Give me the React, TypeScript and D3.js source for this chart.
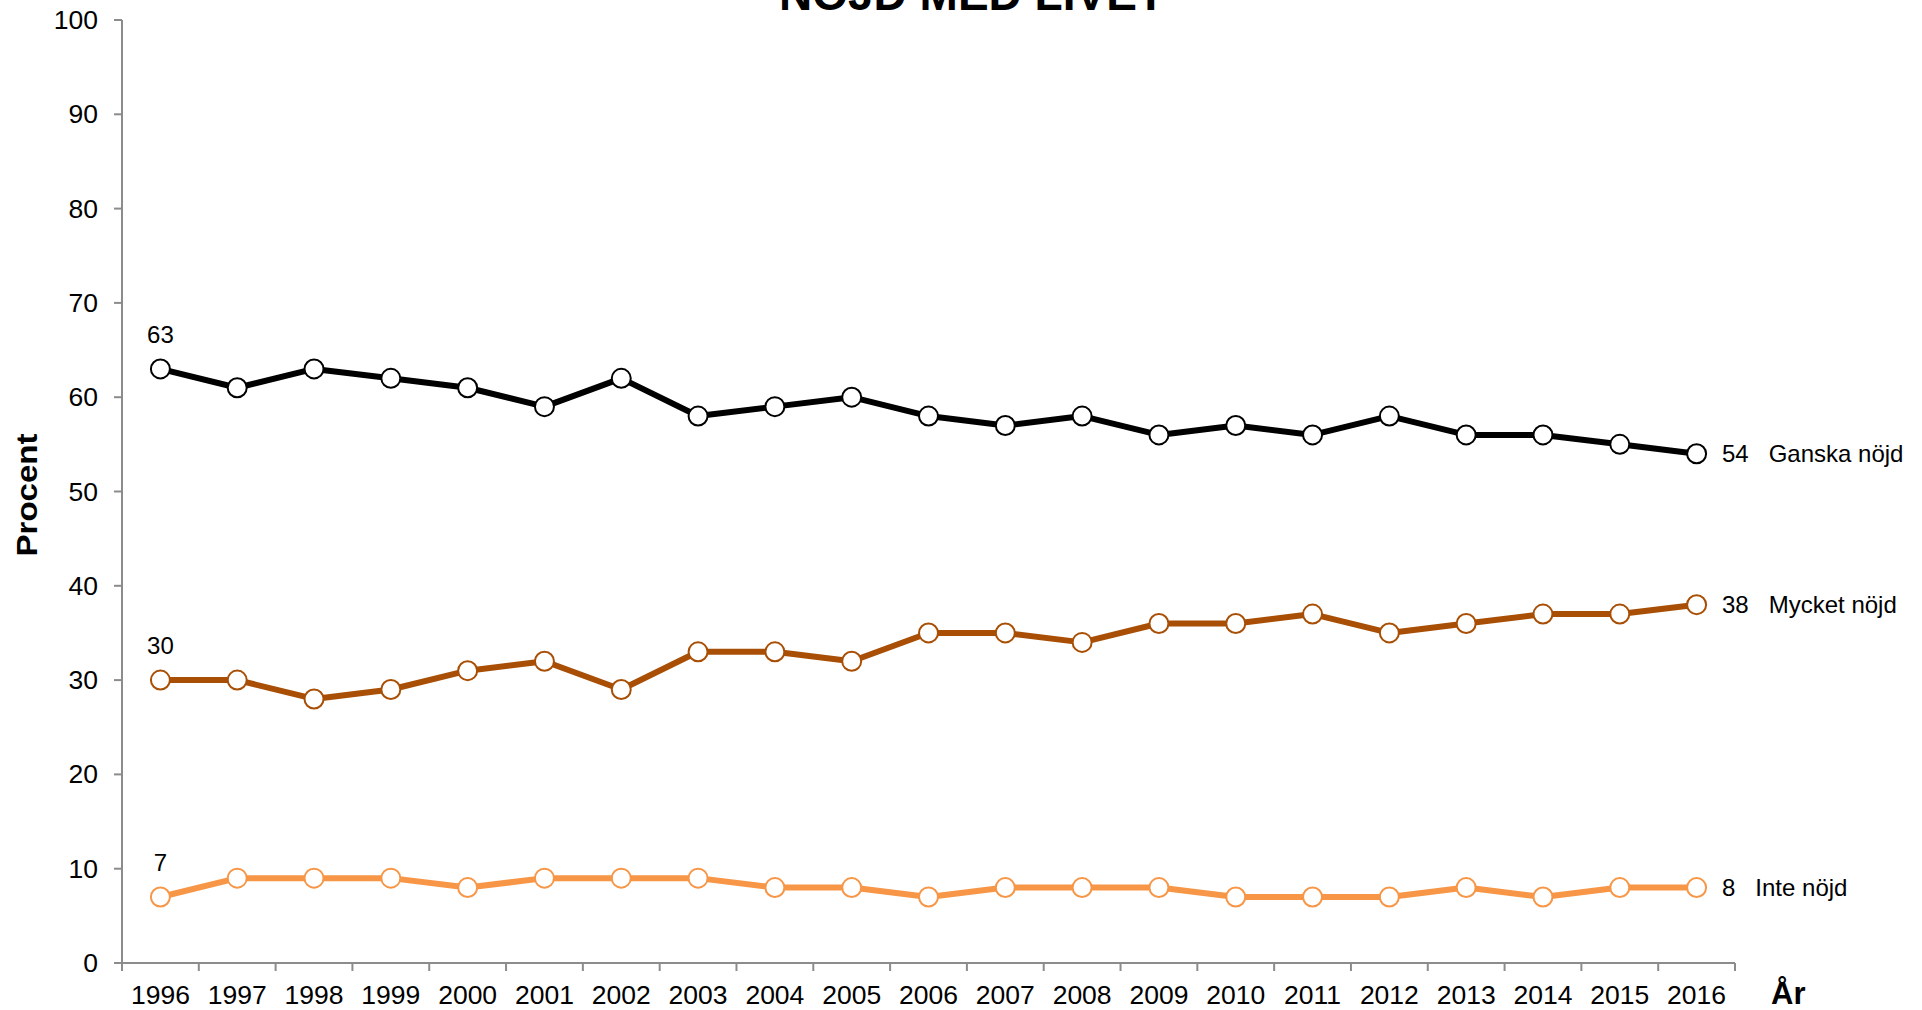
import React from "react";
import * as d3 from "d3";

const years = ["1996","1997","1998","1999","2000","2001","2002","2003","2004","2005","2006","2007","2008","2009","2010","2011","2012","2013","2014","2015","2016"];
const ganska = [63,61,63,62,61,59,62,58,59,60,58,57,58,56,57,56,58,56,56,55,54];
const mycket = [30,30,28,29,31,32,29,33,33,32,35,35,34,36,36,37,35,36,37,37,38];
const inte = [7,9,9,9,8,9,9,9,8,8,7,8,8,8,7,7,7,8,7,8,8];
const yTicks = [0,10,20,30,40,50,60,70,80,90,100];

const seriesList = [
  { name: "Ganska nöjd", values: ganska, color: "#000000" },
  { name: "Mycket nöjd", values: mycket, color: "#A84F05" },
  { name: "Inte nöjd", values: inte, color: "#F79646" },
];

const FONT = "'Liberation Sans', Arial, Helvetica, sans-serif";

export default function App() {
  const W = 1922, H = 1010;
  const x = d3.scaleBand<string>().domain(years).range([122, 1735]).padding(0);
  const y = d3.scaleLinear().domain([0, 100]).range([963, 20]);
  const cx = (i: number) => (x(years[i]) as number) + x.bandwidth() / 2;
  const line = d3.line<number>().x((_, i) => cx(i)).y((d) => y(d));
  const axisColor = "#8c8c8c";
  const boundaries = years.map((yr) => x(yr) as number).concat([x.range()[1]]);
  const last = years.length - 1;

  return (
    <svg width={W} height={H} style={{ position: "absolute", left: 0, top: 0, background: "#fff" }} fontFamily={FONT}>
      <rect x={0} y={0} width={W} height={H} fill="#fff" />
      <text x={972} y={10} textAnchor="middle" fontSize={46} fontWeight="bold" fill="#000">NÖJD MED LIVET</text>

      {/* y axis */}
      <line x1={122} x2={122} y1={y(100)} y2={y(0)} stroke={axisColor} strokeWidth={2} />
      {yTicks.map((t) => (
        <g key={t}>
          <line x1={114} x2={122} y1={y(t)} y2={y(t)} stroke={axisColor} strokeWidth={2} />
          <text x={98} y={y(t)} textAnchor="end" dominantBaseline="central" fontSize={26.5} fill="#000">{t}</text>
        </g>
      ))}
      <text transform={`translate(37,495) rotate(-90)`} textAnchor="middle" fontSize={29} fontWeight="bold" fill="#000" textLength={123} lengthAdjust="spacingAndGlyphs">Procent</text>

      {/* x axis */}
      <line x1={122} x2={1735} y1={y(0)} y2={y(0)} stroke={axisColor} strokeWidth={2} />
      {boundaries.map((b, i) => (
        <line key={i} x1={b} x2={b} y1={y(0)} y2={y(0) + 8} stroke={axisColor} strokeWidth={2} />
      ))}
      {years.map((yr, i) => (
        <text key={yr} x={cx(i)} y={1004} textAnchor="middle" fontSize={26.5} fill="#000">{yr}</text>
      ))}
      <text x={1771} y={1004} fontSize={31} fontWeight="bold" fill="#000">År</text>

      {/* series */}
      {seriesList.map((s) => (
        <g key={s.name}>
          <path d={line(s.values) || ""} fill="none" stroke={s.color} strokeWidth={6} strokeLinejoin="round" />
          {s.values.map((v, i) => (
            <circle key={i} cx={cx(i)} cy={y(v)} r={9.5} fill="#fff" stroke={s.color} strokeWidth={2} />
          ))}
          <text x={cx(0)} y={y(s.values[0]) - 26} textAnchor="middle" fontSize={24} fill="#000">{s.values[0]}</text>
          <text x={1722} y={y(s.values[last])} dominantBaseline="central" fontSize={24} fill="#000" style={{ whiteSpace: "pre" }}>{`${s.values[last]}   ${s.name}`}</text>
        </g>
      ))}
    </svg>
  );
}
